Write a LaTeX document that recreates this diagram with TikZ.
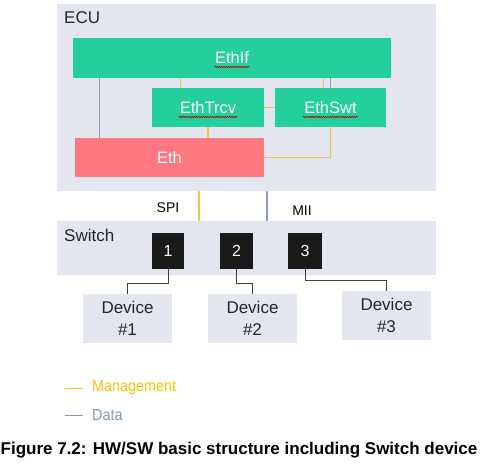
\documentclass[tikz,border=0pt]{standalone}
\usepackage{fontspec}
\setmainfont{Liberation Sans}
\newfontfamily\narrowfont[FakeStretch=0.9]{Liberation Sans}
\usetikzlibrary{decorations.pathmorphing}
\definecolor{bggray}{HTML}{E3E6EE}
\definecolor{swgreen}{HTML}{23D09B}
\definecolor{ethpink}{HTML}{FF7880}
\definecolor{mgmtc}{HTML}{F2C443}
\definecolor{mgmttext}{HTML}{FFC000}
\definecolor{datac}{HTML}{8C9CBA}
\definecolor{datatext}{HTML}{8497B0}
\definecolor{portblack}{HTML}{1A1A1A}
\definecolor{linkgray}{HTML}{404040}
\begin{document}
\begin{tikzpicture}[x=1pt,y=-1pt,
  area/.style={fill=bggray, draw=none, inner sep=0pt},
  swbox/.style={fill=swgreen, draw=none, inner sep=0pt, text=white, font=\fontsize{16.5}{18}\selectfont, minimum height=39pt},
  ethbox/.style={fill=ethpink, draw=none, inner sep=0pt, text=white, font=\fontsize{16.5}{18}\selectfont, minimum height=39pt},
  port/.style={fill=portblack, draw=none, inner sep=0pt, text=white, minimum height=36pt, font=\fontsize{16}{18}\selectfont},
  device/.style={fill=bggray, draw=none, inner sep=0pt, minimum width=89pt, minimum height=49pt, align=center, font=\fontsize{17}{20}\selectfont, text=black!85},
  arealabel/.style={anchor=west, inner sep=0pt, font=\fontsize{17}{20}\selectfont, text=black!85},
  iflabel/.style={inner sep=0pt, font=\fontsize{14}{16}\selectfont, text=black},
  legendtext/.style={anchor=west, inner sep=0pt, font=\narrowfont\fontsize{16}{18}\selectfont},
  mgmt/.style={draw=mgmtc, line width=1.3pt},
  data/.style={draw=datac, line width=1.1pt},
  link/.style={draw=linkgray, line width=1pt},
  wavy/.style={draw=red!70!black, line width=0.6pt, decorate, decoration={snake, amplitude=0.7pt, segment length=2.2pt}}
]
\useasboundingbox (0,0) rectangle (483,465);

% areas
\node[area, minimum width=379pt, minimum height=187pt] (ecu) at (246.5,97.5) {};
\node[arealabel] (ecul) at (64,18) {ECU};
\node[area, minimum width=379pt, minimum height=54pt] (sw) at (246.5,248) {};
\node[arealabel] (swl) at (64,235) {Switch};

% ECU modules
\node[swbox, minimum width=318pt, minimum height=40pt] (ethif) at (232,58) {EthIf};
\node[swbox, minimum width=112pt] (trcv) at (208,107.5) {EthTrcv};
\node[swbox, minimum width=111pt] (swt) at (330.5,107.5) {EthSwt};
\node[ethbox, minimum width=189pt] (eth) at (169.5,157.5) {Eth};

% spell-check underlines
\draw[wavy] ([xshift=-17.5pt,yshift=-9pt]ethif.center) -- ++(35,0);
\draw[wavy] ([xshift=-29.5pt,yshift=-9.5pt]trcv.center) -- ++(59,0);
\draw[wavy] ([xshift=-27.5pt,yshift=-9.5pt]swt.center) -- ++(55,0);

% connections inside ECU
\draw[data] ([xshift=25pt]eth.north west) -- ([xshift=25pt]eth.north west |- ethif.south);
\draw[mgmt] ([xshift=29pt]trcv.north west) -- ([xshift=29pt]trcv.north west |- ethif.south);
\draw[mgmt] ([xshift=-7pt]swt.north) -- ([xshift=-7pt]swt.north |- ethif.south);
\draw[data] (swt.north) -- (swt.north |- ethif.south);
\draw[mgmt] (trcv.east) -- (swt.west);
\draw[mgmt] (trcv.south) -- (trcv.south |- eth.north);
\draw[mgmt] (swt.south) |- (eth.east);

% ECU to switch
\draw[mgmt] (199,0 |- ecu.south) -- (199,0 |- sw.north);
\draw[data] (267,0 |- ecu.south) -- (267,0 |- sw.north);
\node[iflabel] (spi) at (168,208) {SPI};
\node[iflabel] (mii) at (302,211) {MII};

% ports
\node[port, minimum width=32pt] (p1) at (168,251) {1};
\node[port, minimum width=33pt] (p2) at (236.5,251) {2};
\node[port, minimum width=34pt] (p3) at (305,251) {3};

% devices
\node[device] (d1) at (127.5,318.5) {Device\\[2pt]\#1};
\node[device] (d2) at (252.5,318.5) {Device\\[2pt]\#2};
\node[device] (d3) at (386.5,315.5) {Device\\[2pt]\#3};

\draw[link] (p1.south) -- ++(0,14) -| (d1.north);
\draw[link] (p2.south) -- ++(0,14) -| (d2.north);
\draw[link] (p3.south) -- ++(0,11) -| (d3.north);

% legend
\coordinate (lm1) at (65,388);
\coordinate (lm2) at (83,388);
\coordinate (ld1) at (65,415);
\coordinate (ld2) at (83,415);
\draw[draw=mgmttext, line width=0.8pt] (lm1) -- (lm2);
\node[legendtext, text=mgmttext] (lmt) at (92,388) {Management};
\draw[draw=datatext, line width=0.8pt] (ld1) -- (ld2);
\node[legendtext, text=datatext] (ldt) at (92,415) {Data};

% caption
\node[inner sep=0pt, font=\bfseries\fontsize{17}{20}\selectfont] (cap) at (239,450) {Figure 7.2: HW/SW basic structure including Switch device};
\end{tikzpicture}
\end{document}
